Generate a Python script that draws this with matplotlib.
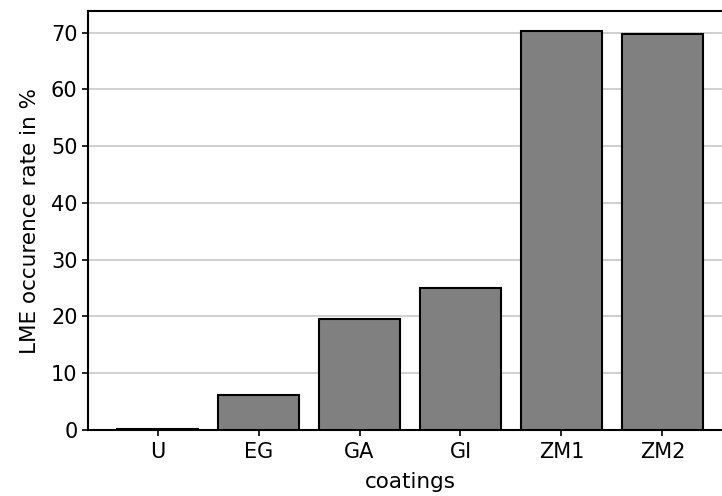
import matplotlib
matplotlib.use("Agg")
import matplotlib.pyplot as plt

coatings = ["U", "EG", "GA", "GI", "ZM1", "ZM2"]
occurrence_rate = [0.1, 6.2, 19.6, 25.0, 70.3, 69.8]

plt.rcParams["font.family"] = "DejaVu Sans"

fig = plt.figure(figsize=(7.22, 4.96), dpi=100)
ax = fig.add_axes([88 / 722, (496 - 430) / 496, (732 - 88) / 722, (430 - 11) / 496])

ax.bar(coatings, occurrence_rate, width=0.8, color="#808080",
       edgecolor="black", linewidth=1.5, zorder=3)
ax.yaxis.grid(True, color="#c4c4c4", linewidth=1.1, zorder=0)
ax.set_axisbelow(True)

ax.set_ylim(0, 73.8)
ax.set_xlim(-0.69, 5.69)
ax.set_yticks(range(0, 71, 10))
ax.set_xlabel("coatings", fontsize=15.5, labelpad=7)
ax.set_ylabel("LME occurence rate in %", fontsize=15.5, labelpad=8)
ax.tick_params(labelsize=15, width=1.2, length=4)
ax.tick_params(axis="x", pad=5)
for s in ax.spines.values():
    s.set_linewidth(1.5)

fig.savefig("out.png", dpi=100)
